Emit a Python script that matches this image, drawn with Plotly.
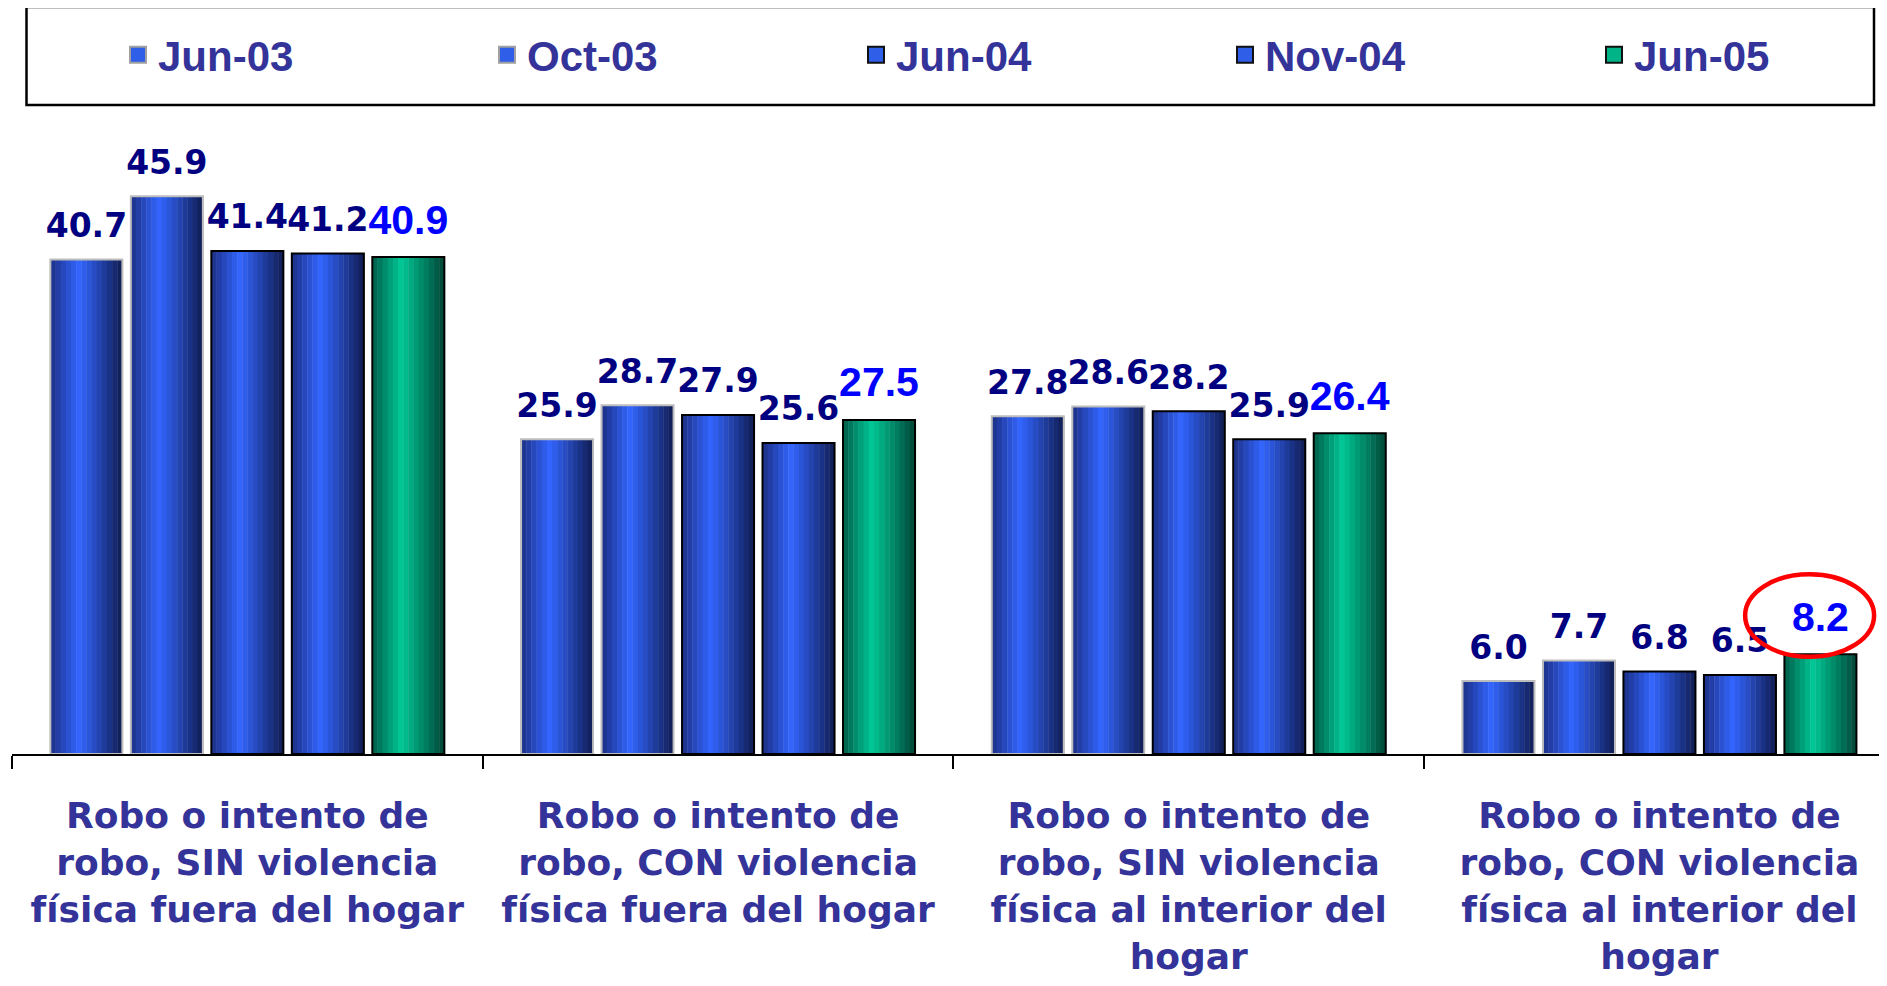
import plotly.graph_objects as go

categories = [
    "Robo o intento de<br>robo, SIN violencia<br>física fuera del hogar",
    "Robo o intento de<br>robo, CON violencia<br>física fuera del hogar",
    "Robo o intento de<br>robo, SIN violencia<br>física al interior del<br>hogar",
    "Robo o intento de<br>robo, CON violencia<br>física al interior del<br>hogar",
]
series_names = ["Jun-03", "Oct-03", "Jun-04", "Nov-04", "Jun-05"]
jun03 = [40.7, 25.9, 27.8, 6.0]
oct03 = [45.9, 28.7, 28.6, 7.7]
jun04 = [41.4, 27.9, 28.2, 6.8]
nov04 = [41.2, 25.6, 25.9, 6.5]
jun05 = [40.9, 27.5, 26.4, 8.2]
series_values = [jun03, oct03, jun04, nov04, jun05]

# ---- styling / layout (figure coords = page coords - 8 px body margin) ----
W, H = 1879, 970
ML, MR, MT = 4, 0, 102
PLOT_BOTTOM = 746
MB = H - PLOT_BOTTOM
plot_w = W - ML - MR
plot_h = PLOT_BOTTOM - MT
cat_px = 470.7
x_range = [-0.5, -0.5 + plot_w / cat_px]
px_per_unit = 12.15
y_range = [0, plot_h / px_per_unit]
label_lift = 0.95  # visual gap between bar top and its value label (axis units)

bar_w = 0.153
pitch = 0.171
N_SLICES = 14

blue_grad = ((0x1c, 0x30, 0x86), (0x33, 0x66, 0xff), (0x10, 0x1c, 0x52))
green_grad = ((0x00, 0x5e, 0x4a), (0x00, 0xc8, 0x96), (0x00, 0x45, 0x36))
grads = [blue_grad] * 4 + [green_grad]
legend_cols = ["#2f5ee8"] * 4 + ["#00b487"]
outline_cols = ["#bdbdbd", "#bdbdbd", "#000000", "#000000", "#000000"]
legend_outline = ["#a0a0a0", "#a0a0a0", "#111111", "#111111", "#111111"]
label_fonts = [dict(family="DejaVu Sans", size=33, color="#000080", weight="bold")] * 4 + \
              [dict(family="Liberation Sans, Arial", size=41, color="#0000ff", weight="bold")]


def grad_color(g, t, peak=0.4):
    L, P, R = g
    if t <= peak:
        f = t / peak
        a, b = L, P
    else:
        f = (t - peak) / (1 - peak)
        a, b = P, R
    c = [round(a[i] + (b[i] - a[i]) * f) for i in range(3)]
    return "rgb(%d,%d,%d)" % tuple(c)


fig = go.Figure()

# gradient-filled bars, drawn as thin vertical slices
for i, (name, vals) in enumerate(zip(series_names, series_values)):
    center = (i - 2) * pitch
    left = center - bar_w / 2
    sw = bar_w / N_SLICES
    for k in range(N_SLICES):
        t = (k + 0.5) / N_SLICES
        fig.add_trace(go.Bar(
            x=categories, y=vals, name=name,
            offset=left + k * sw, width=sw * 1.08,
            marker=dict(color=grad_color(grads[i], t), line=dict(width=0)),
            showlegend=False, legendgroup=name, hoverinfo="skip",
        ))

# bar outlines
for i, (name, vals) in enumerate(zip(series_names, series_values)):
    center = (i - 2) * pitch
    fig.add_trace(go.Bar(
        x=categories, y=vals, name=name,
        offset=center - bar_w / 2, width=bar_w,
        marker=dict(color="rgba(0,0,0,0)", line=dict(color=outline_cols[i], width=2)),
        showlegend=False, legendgroup=name,
    ))

# value labels (placed just above each bar)
for i, (name, vals) in enumerate(zip(series_names, series_values)):
    center = (i - 2) * pitch
    fig.add_trace(go.Bar(
        x=categories, y=[label_lift] * len(vals), base=vals, name=name,
        offset=center - bar_w / 2, width=bar_w,
        marker=dict(color="rgba(0,0,0,0)", line=dict(width=0)),
        text=["%.1f" % v for v in vals], textposition="outside",
        textfont=label_fonts[i], constraintext="none", cliponaxis=False,
        showlegend=False, legendgroup=name, hoverinfo="skip",
    ))

# legend entries
for i, name in enumerate(series_names):
    fig.add_trace(go.Scatter(
        x=[None], y=[None], mode="markers", name=name, legendgroup=name,
        marker=dict(symbol="square", size=16, color=legend_cols[i],
                    line=dict(color=legend_outline[i], width=2)),
        showlegend=True,
    ))

# legend box
fig.add_shape(type="rect", xref="paper", yref="paper",
              x0=(26.5 - 8 - ML) / plot_w, x1=(1874 - 8 - ML) / plot_w,
              y0=(PLOT_BOTTOM - (105 - 8)) / plot_h, y1=(PLOT_BOTTOM - (7 - 8)) / plot_h,
              line=dict(color="black", width=2.5), fillcolor="rgba(0,0,0,0)")

# red ellipse highlighting the last value
fig.add_shape(type="circle", xref="x", yref="y",
              x0=3.182, x1=3.456, y0=8.0, y1=14.8,
              line=dict(color="#ff0000", width=4.5))

fig.update_layout(
    width=W, height=H,
    margin=dict(l=ML, r=MR, t=MT, b=MB, autoexpand=False),
    barmode="overlay",
    plot_bgcolor="white", paper_bgcolor="white",
    showlegend=True,
    legend=dict(
        orientation="h", x=(110 - ML) / plot_w, xanchor="left",
        y=(PLOT_BOTTOM - (55 - 8)) / plot_h, yanchor="middle",
        entrywidth=324, entrywidthmode="pixels",
        font=dict(family="Liberation Sans, Arial", size=42, color="#333399", weight="bold"),
        bgcolor="rgba(0,0,0,0)", borderwidth=0, traceorder="normal",
    ),
    xaxis=dict(
        type="category", range=x_range, showline=True, linecolor="black", linewidth=2,
        ticks="outside", tickson="boundaries", ticklen=13, tickcolor="black", tickwidth=2,
        tickfont=dict(family="DejaVu Sans", size=36, color="#333399", weight="bold"),
        ticklabelstandoff=29, showgrid=False, zeroline=False,
    ),
    yaxis=dict(range=y_range, visible=False, showgrid=False, zeroline=False),
)

fig.write_html("out.html")
